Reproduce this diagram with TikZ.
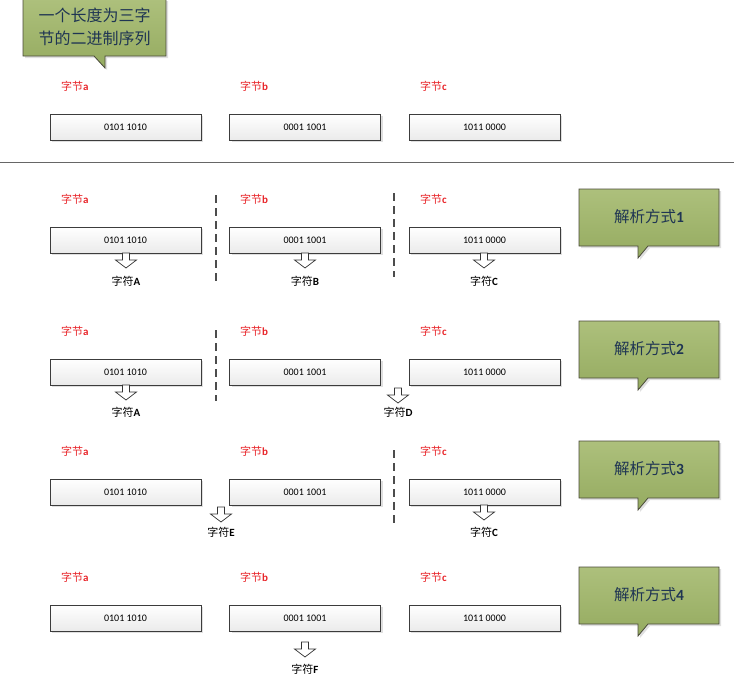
\documentclass[tikz,border=0pt]{standalone}
\usepackage{fontspec}
\setmainfont{Carlito}
\newfontfamily\cjk{Noto Sans CJK SC}
\usetikzlibrary{shadows}
\definecolor{callfillA}{HTML}{ADC07C}
\definecolor{callfillB}{HTML}{95AB60}
\definecolor{callborder}{HTML}{4A4A3A}
\definecolor{calltext}{HTML}{1F3553}
\definecolor{bytered}{HTML}{E8252A}
\definecolor{boxborder}{HTML}{3C3C3C}
\tikzset{
  x=1pt, y=-1pt,
  bytebox/.style={draw=boxborder, line width=0.8pt, top color=white, bottom color=black!8,
    minimum width=151pt, minimum height=26pt, inner sep=0pt,
    font=\fontsize{10}{11}\selectfont,
    drop shadow={opacity=0.25, shadow xshift=2pt, shadow yshift=-2pt}},
  bytelabel/.style={anchor=west, inner sep=0pt, text=bytered, font=\fontsize{11}{12}\selectfont},
  charlabel/.style={inner sep=0pt, font=\fontsize{11}{12}\selectfont},
  callshape/.style={draw=callborder, line width=0.8pt, top color=callfillA, bottom color=callfillB,
    drop shadow={opacity=0.25, shadow xshift=2pt, shadow yshift=-2pt}},
  calltxt/.style={inner sep=0pt, text=calltext, align=center},
  sepline/.style={draw=black!60, line width=0.8pt},
  divider/.style={draw=black!70, line width=1.3pt, dash pattern=on 8pt off 5pt},
  hollowarrow/.pic={\draw[draw=black!80, fill=white, line width=0.7pt, line join=miter]
    (-3.5,0) -- (3.5,0) -- (3.5,7) -- (10.5,7) -- (0,15) -- (-10.5,7) -- (-3.5,7) -- cycle;}
}
\newcommand{\bl}[1]{{\cjk 字节}\textbf{#1}}
\newcommand{\cl}[1]{{\cjk 字符}\textbf{#1}}
\begin{document}
\begin{tikzpicture}
\useasboundingbox (0,0) rectangle (734,680);

% top callout
\path[callshape] (23,-1) -- (166,-1) -- (166,56) -- (105,56) -- (105,68) -- (94,56) -- (23,56) -- cycle;
\node[calltxt, font=\cjk\fontsize{16}{23}\selectfont] (title) at (94.5,27) {一个长度为三字\\节的二进制序列};

% row 0
\node[bytelabel] (la0) at (61,86) {\bl{a}};
\node[bytelabel] (lb0) at (240,86) {\bl{b}};
\node[bytelabel] (lc0) at (420,86) {\bl{c}};
\node[bytebox] (ba0) at (125.5,127) {0101 1010};
\node[bytebox] (bb0) at (305,127) {0001 1001};
\node[bytebox] (bc0) at (484.5,127) {1011 0000};

\path[sepline] (0,162) -- (734,162);

% callouts
\foreach \t/\n in {189/1,321/2,441/3,567/4}{
  \path[callshape] (579,\t) -- (719,\t) -- (719,\t+57) -- (648,\t+57) -- (638,\t+69) -- (638,\t+57) -- (579,\t+57) -- cycle;
  \node[calltxt, font=\fontsize{15.5}{17}\selectfont] (call\n) at (649,\t+28) {{\cjk 解析方式}\textbf{\n}};
}

% rows 1..4
\foreach \r/\ly/\by in {1/199/240,2/331/372,3/451/492,4/577/618}{
  \node[bytelabel] (la\r) at (61,\ly) {\bl{a}};
  \node[bytelabel] (lb\r) at (240,\ly) {\bl{b}};
  \node[bytelabel] (lc\r) at (420,\ly) {\bl{c}};
  \node[bytebox] (ba\r) at (125.5,\by) {0101 1010};
  \node[bytebox] (bb\r) at (305,\by) {0001 1001};
  \node[bytebox] (bc\r) at (484.5,\by) {1011 0000};
}

% dividers
\path[divider] (216,195) -- (216,281);
\path[divider] (394,193) -- (394,277);
\path[divider] (216,330) -- (216,401);
\path[divider] (394,450) -- (394,526);

% result arrows and labels
\pic at (126,253) {hollowarrow};
\node[charlabel] (cA1) at (126,281) {\cl{A}};
\pic at (305,253) {hollowarrow};
\node[charlabel] (cB1) at (305,281) {\cl{B}};
\pic at (484,253) {hollowarrow};
\node[charlabel] (cC1) at (484,281) {\cl{C}};

\pic at (126,385) {hollowarrow};
\node[charlabel] (cA2) at (126,412) {\cl{A}};
\pic at (398,388) {hollowarrow};
\node[charlabel] (cD2) at (398,412) {\cl{D}};

\pic at (221,507) {hollowarrow};
\node[charlabel] (cE3) at (221,532) {\cl{E}};
\pic at (484,505) {hollowarrow};
\node[charlabel] (cC3) at (484,532) {\cl{C}};

\pic at (305,642) {hollowarrow};
\node[charlabel] (cF4) at (305,669) {\cl{F}};
\end{tikzpicture}
\end{document}
